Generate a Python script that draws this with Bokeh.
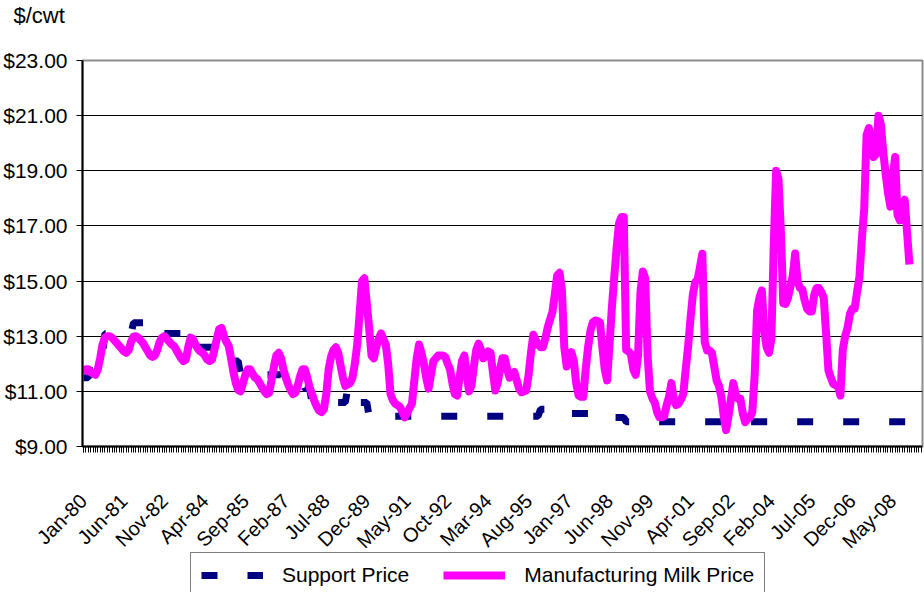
import math
from bokeh.plotting import figure
from bokeh.layouts import column
from bokeh.models import Range1d, FixedTicker, Legend, LegendItem, Title
from bokeh.embed import file_html
from bokeh.resources import INLINE

# Monthly data, Jan-1980 (index 0) .. Dec-2008 (index 347)
months = list(range(348))

mfg_price = [
    11.65, 11.8, 11.8, 11.7, 11.65, 11.6, 11.8, 12.2, 12.7, 12.95, 13.0, 13.0,        # 1980
    12.95, 12.85, 12.75, 12.65, 12.55, 12.45, 12.4, 12.5, 12.8, 12.98, 13.0, 12.95,   # 1981
    12.85, 12.75, 12.6, 12.45, 12.3, 12.25, 12.3, 12.5, 12.8, 12.95, 13.0, 12.9,      # 1982
    12.8, 12.7, 12.65, 12.5, 12.35, 12.2, 12.1, 12.15, 12.6, 12.95, 12.9, 12.7,       # 1983
    12.55, 12.45, 12.4, 12.3, 12.15, 12.1, 12.15, 12.5, 12.9, 13.25, 13.3, 13.0,      # 1984
    12.8, 12.65, 12.2, 11.7, 11.3, 11.05, 11.0, 11.3, 11.6, 11.8, 11.8, 11.65,        # 1985
    11.5, 11.45, 11.3, 11.15, 11.0, 10.9, 10.95, 11.4, 11.9, 12.3, 12.4, 12.2,        # 1986
    11.8, 11.5, 11.25, 11.05, 10.9, 10.95, 11.2, 11.55, 11.8, 11.8, 11.5, 11.15,      # 1987
    10.9, 10.65, 10.45, 10.3, 10.25, 10.35, 10.9, 11.8, 12.25, 12.5, 12.6, 12.4,      # 1988
    11.95, 11.5, 11.2, 11.25, 11.3, 11.5, 12.0, 12.7, 13.8, 15.0, 15.1, 14.2,         # 1989
    13.3, 12.3, 12.2, 12.6, 12.9, 13.1, 12.9, 12.7, 12.0, 10.9, 10.67, 10.55,         # 1990
    10.5, 10.43, 10.25, 10.06, 10.2, 10.4, 10.55, 11.4, 12.2, 12.7, 12.4, 12.0,       # 1991
    11.5, 11.1, 11.6, 12.1, 12.2, 12.3, 12.3, 12.3, 12.25, 12.0, 11.8, 11.3,          # 1992
    10.9, 10.85, 11.5, 12.1, 12.3, 11.6, 11.0, 11.2, 11.9, 12.5, 12.73, 12.5,         # 1993
    12.2, 12.3, 12.45, 12.4, 11.7, 11.03, 11.3, 11.8, 12.2, 12.2, 11.8, 11.5,         # 1994
    11.6, 11.7, 11.4, 11.1, 10.97, 11.0, 11.03, 11.6, 12.4, 13.05, 12.85, 12.7,       # 1995
    12.6, 12.6, 12.9, 13.3, 13.6, 13.87, 14.5, 15.2, 15.3, 14.66, 12.6, 11.9,         # 1996
    12.2, 12.42, 12.1, 11.3, 10.85, 10.8, 10.8, 11.8, 12.6, 13.2, 13.5, 13.57,        # 1997
    13.55, 13.5, 12.6, 11.8, 11.4, 12.7, 14.05, 15.15, 16.23, 17.1, 17.32, 17.32,     # 1998
    12.5, 12.45, 12.35, 11.8, 11.6, 12.3, 14.6, 15.35, 15.1, 12.3, 11.0, 10.75,       # 1999
    10.6, 10.25, 10.06, 10.06, 10.1, 10.5, 10.8, 11.3, 10.7, 10.5, 10.55, 10.7,       # 2000
    10.9, 11.8, 12.6, 13.6, 14.5, 14.96, 15.05, 15.5, 15.99, 12.8, 12.48, 12.48,      # 2001
    12.4, 11.9, 11.4, 11.2, 10.8, 10.1, 9.6, 10.1, 10.7, 11.3, 10.9, 10.73,           # 2002
    10.73, 10.2, 9.88, 10.0, 10.06, 10.25, 11.6, 13.93, 14.4, 14.66, 13.2, 12.6,      # 2003
    12.4, 12.9, 16.3, 19.0, 18.7, 16.8, 14.2, 14.17, 14.4, 14.8, 15.2, 16.0,          # 2004
    15.0, 14.75, 14.7, 14.3, 14.0, 13.9, 13.9, 14.5, 14.75, 14.75, 14.6, 14.4,        # 2005
    13.1, 11.75, 11.5, 11.27, 11.22, 11.2, 10.85, 12.5, 13.0, 13.3, 13.8, 14.0,       # 2006
    14.0, 14.6, 15.15, 16.5, 17.6, 20.3, 20.55, 20.0, 19.5, 19.6, 21.0, 20.7,         # 2007
    19.7, 18.9, 18.2, 17.7, 18.8, 19.5, 17.4, 17.2, 17.7, 17.95, 16.8, 15.6,          # 2008
]

support_price = (
    [11.49] * 3 + [12.36] * 6 + [13.10] * 12 + [13.49] * 12 + [13.10] * 14
    + [12.60] * 16 + [12.10] * 3 + [11.60] * 18 + [11.35] * 9 + [11.10] * 3
    + [10.60] * 15 + [11.10] * 3 + [10.60] * 6 + [10.10] * 72 + [10.35] * 12
    + [10.20] * 12 + [10.05] * 12 + [9.90] * 120
)

x_tick_months = [0, 17, 34, 51, 68, 85, 102, 119, 136, 153, 170, 187, 204,
                 221, 238, 255, 272, 289, 306, 323, 340]
x_tick_labels = ["Jan-80", "Jun-81", "Nov-82", "Apr-84", "Sep-85", "Feb-87",
                 "Jul-88", "Dec-89", "May-91", "Oct-92", "Mar-94", "Aug-95",
                 "Jan-97", "Jun-98", "Nov-99", "Apr-01", "Sep-02", "Feb-04",
                 "Jul-05", "Dec-06", "May-08"]
y_ticks = [9, 11, 13, 15, 17, 19, 21, 23]
y_tick_labels = ["$9.00", "$11.00", "$13.00", "$15.00", "$17.00", "$19.00",
                 "$21.00", "$23.00"]

FONT = "Liberation Sans"
NAVY = "#000080"
MAGENTA = "#FF00FF"
LEFT, RIGHT = 82, 2

# ---------------- unit header strip ----------------
hf = figure(width=924, height=48, output_backend="svg", toolbar_location=None,
            x_axis_type=None, y_axis_type=None,
            min_border_left=LEFT, min_border_right=RIGHT, min_border_top=0,
            min_border_bottom=0)
hf.outline_line_color = None
hf.background_fill_color = "white"
hf.border_fill_color = "white"
hf.xgrid.visible = False
hf.ygrid.visible = False
hf.add_layout(Title(text="$/cwt", align="left", offset=-69, standoff=0,
                    text_font=FONT, text_font_size="22px",
                    text_font_style="normal", text_color="black"), "above")

# ---------------- main chart ----------------
p = figure(width=924, height=515, output_backend="svg", toolbar_location=None,
           x_range=Range1d(-0.42, 352.5), y_range=Range1d(9, 23),
           min_border_left=LEFT, min_border_right=RIGHT, min_border_top=12,
           min_border_bottom=117)
p.background_fill_color = "white"
p.border_fill_color = "white"
p.outline_line_color = "#8c8c8c"
p.outline_line_width = 2

p.xgrid.visible = False
p.ygrid.ticker = FixedTicker(ticks=y_ticks[:-1])
p.ygrid.grid_line_color = "black"
p.ygrid.grid_line_width = 1

p.yaxis.ticker = FixedTicker(ticks=y_ticks)
p.yaxis.major_label_overrides = {t: l for t, l in zip(y_ticks, y_tick_labels)}
p.yaxis.minor_tick_line_color = None
p.yaxis.major_tick_out = 6
p.yaxis.major_tick_in = 0
p.yaxis.major_tick_line_color = "black"
p.yaxis.axis_line_color = "black"
p.yaxis.axis_line_width = 2
p.yaxis.major_label_text_font = FONT
p.yaxis.major_label_text_font_size = "21px"
p.yaxis.major_label_text_color = "black"
p.yaxis.major_label_standoff = 9

p.xaxis.ticker = FixedTicker(ticks=x_tick_months, minor_ticks=list(range(0, 353)))
p.xaxis.major_label_overrides = {t: l for t, l in zip(x_tick_months, x_tick_labels)}
p.xaxis.major_label_orientation = math.pi / 4
p.xaxis.major_tick_out = 6
p.xaxis.major_tick_in = 0
p.xaxis.major_tick_line_color = "black"
p.xaxis.minor_tick_out = 6
p.xaxis.minor_tick_in = 0
p.xaxis.minor_tick_line_color = "black"
p.xaxis.axis_line_color = "black"
p.xaxis.axis_line_width = 2
p.xaxis.major_label_text_font = FONT
p.xaxis.major_label_text_font_size = "20px"
p.xaxis.major_label_text_color = "black"
p.xaxis.major_label_standoff = 45

p.line(months, support_price, line_color=NAVY, line_width=7, line_dash="16 30")
p.line(months, mfg_price, line_color=MAGENTA, line_width=8, line_join="round")

# ---------------- legend strip ----------------
lf = figure(width=924, height=40, output_backend="svg", toolbar_location=None,
            x_axis_type=None, y_axis_type=None,
            x_range=Range1d(0, 1), y_range=Range1d(0, 1),
            min_border_left=LEFT, min_border_right=RIGHT, min_border_top=0,
            min_border_bottom=0, margin=(-11, 0, 0, 0))
lf.outline_line_color = None
lf.background_fill_color = "white"
lf.border_fill_color = "white"
lf.xgrid.visible = False
lf.ygrid.visible = False
# legend sample renderers (kept outside the strip's visible range)
l_support = lf.line([5, 6], [5, 6], line_color=NAVY, line_width=7, line_dash="16 30")
l_mfg = lf.line([5, 6], [5, 6], line_color=MAGENTA, line_width=8)

legend = Legend(items=[LegendItem(label="Support Price", renderers=[l_support]),
                       LegendItem(label="Manufacturing Milk Price", renderers=[l_mfg])],
                orientation="horizontal", location=(108, -6),
                border_line_color="black", border_line_width=1,
                background_fill_color="white", background_fill_alpha=1,
                label_text_font=FONT, label_text_font_size="21px",
                label_text_color="black",
                glyph_width=62, glyph_height=20, label_standoff=19,
                spacing=34, padding=10, margin=0)
lf.add_layout(legend)

layout = column(hf, p, lf, spacing=0)
open("out.html", "w").write(file_html(layout, INLINE))
